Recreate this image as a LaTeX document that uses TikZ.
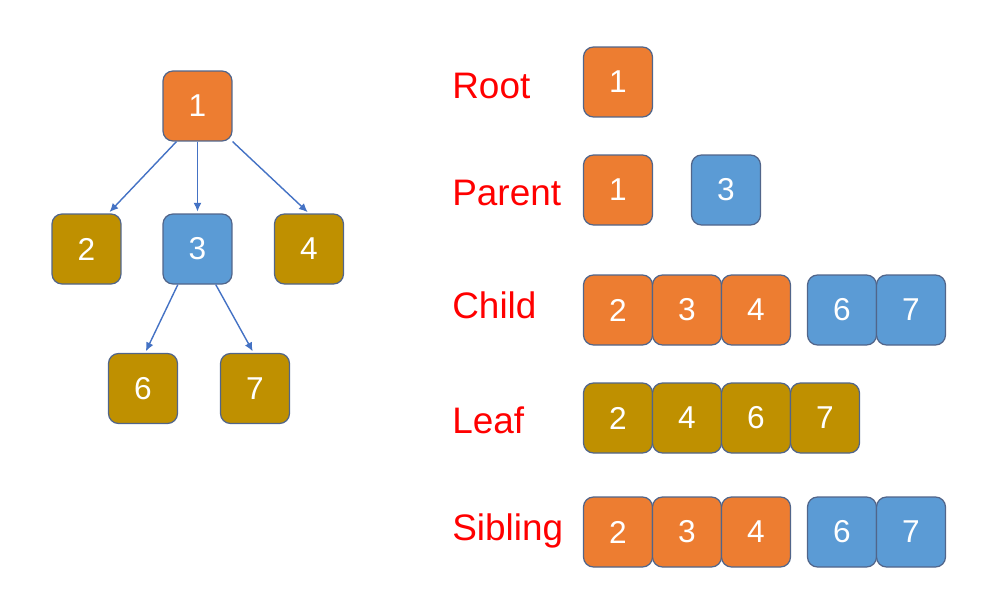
\documentclass[tikz,border=0pt]{standalone}
\usepackage{fontspec}
\setmainfont{Liberation Sans}
\usetikzlibrary{arrows.meta,calc}
\definecolor{orangebox}{HTML}{ED7D31}
\definecolor{bluebox}{HTML}{5B9BD5}
\definecolor{goldbox}{HTML}{BF9000}
\definecolor{boxline}{HTML}{51658A}
\definecolor{arrowblue}{HTML}{4472C4}
\definecolor{labelred}{HTML}{FF0000}
\begin{document}
\begin{tikzpicture}[
    x=0.02cm, y=-0.02cm,
    >={Latex[length=5pt,width=4.5pt]},
    box/.style={draw=boxline, line width=0.7pt, rectangle, rounded corners=0.2cm, minimum width=1.38cm, minimum height=1.4cm, inner sep=0pt, text=white, font=\fontsize{18}{20}\selectfont},
    rootbox/.style={box, fill=orangebox},
    midbox/.style={box, fill=bluebox},
    leafbox/.style={box, fill=goldbox},
    edge/.style={->, draw=arrowblue, line width=0.8pt, shorten >=1pt},
    rowlabel/.style={anchor=base west, text=labelred, font=\fontsize{21}{24}\selectfont, inner sep=0pt}
]
  \useasboundingbox (0,0) rectangle (983,599);

  % Arbol
  \node[rootbox] (n1) at (197.5,106)   {1};
  \node[leafbox] (n2) at (86.5,249)    {2};
  \node[midbox]  (n3) at (197.5,249)   {3};
  \node[leafbox] (n4) at (309,249)     {4};
  \node[leafbox] (n6) at (143,388.5)   {6};
  \node[leafbox] (n7) at (255,388.5)   {7};

  % Aristas del arbol
  \draw[edge] ($(n1.south west)!0.2!(n1.south east)$) -- ($(n2.north west)!0.81!(n2.north east)$);
  \draw[edge] (n1.south) -- (n3.north);
  \draw[edge] (n1.south east) -- (n4.north);
  \draw[edge] ($(n3.south west)!0.22!(n3.south east)$) -- ($(n6.north west)!0.53!(n6.north east)$);
  \draw[edge] ($(n3.south west)!0.76!(n3.south east)$) -- ($(n7.north west)!0.48!(n7.north east)$);

  % Root
  \node[rowlabel] (lroot) at (452,98) {Root};
  \node[rootbox] (root1) at (618,82) {1};

  % Parent
  \node[rowlabel] (lparent) at (452,205) {Parent};
  \node[rootbox] (par1) at (618,190) {1};
  \node[midbox]  (par3) at (726,190) {3};

  % Child
  \node[rowlabel] (lchild) at (452,318) {Child};
  \node[rootbox] (ch2) at (618,310) {2};
  \node[rootbox] (ch3) at (687,310) {3};
  \node[rootbox] (ch4) at (756,310) {4};
  \node[midbox]  (ch6) at (842,310) {6};
  \node[midbox]  (ch7) at (911,310) {7};

  % Leaf
  \node[rowlabel] (lleaf) at (452,433) {Leaf};
  \node[leafbox] (lf2) at (618,418) {2};
  \node[leafbox] (lf4) at (687,418) {4};
  \node[leafbox] (lf6) at (756,418) {6};
  \node[leafbox] (lf7) at (825,418) {7};

  % Sibling
  \node[rowlabel] (lsib) at (452,540) {Sibling};
  \node[rootbox] (sb2) at (618,532) {2};
  \node[rootbox] (sb3) at (687,532) {3};
  \node[rootbox] (sb4) at (756,532) {4};
  \node[midbox]  (sb6) at (842,532) {6};
  \node[midbox]  (sb7) at (911,532) {7};

\end{tikzpicture}
\end{document}
